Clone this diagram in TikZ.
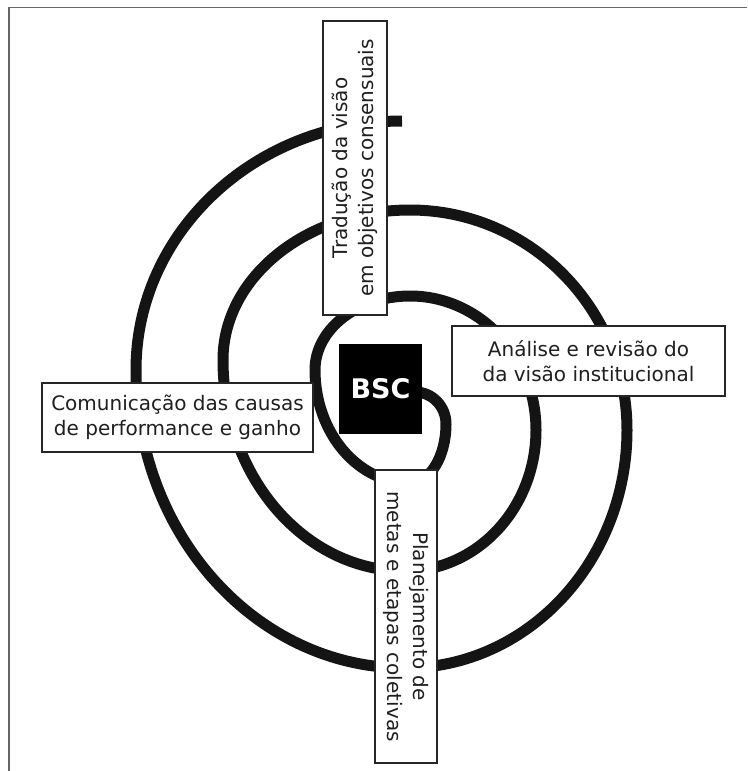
\documentclass[tikz,border=0pt]{standalone}
\usepackage{fontspec}
\setmainfont{DejaVu Sans}
\begin{document}
\begin{tikzpicture}[x=1pt,y=-1pt,
  ring/.style={line width=11pt, line cap=butt, black!92},
  labelbox/.style={draw=black!85, line width=1.8pt, fill=white, inner sep=0pt, align=center,
    font=\fontsize{20}{25.5}\selectfont, text=black!88},
  frameline/.style={draw=black!60, line width=1.6pt}]
\useasboundingbox (0,0) rectangle (747,771);
% frame
\coordinate (fa) at (8.7,771);
\coordinate (fb) at (8.7,7.3);
\coordinate (fc) at (747,7.3);
\draw[frameline] (fa) -- (fb) -- (fc);
% spiral
\coordinate (s0) at (415,392);
\draw[ring] (s0)
  arc[start angle=270,end angle=360,x radius=31,y radius=32]
  arc[start angle=0,end angle=90,x radius=36,y radius=59]
  arc[start angle=90,end angle=180,x radius=95,y radius=113]
  arc[start angle=180,end angle=270,x radius=95,y radius=74]
  arc[start angle=270,end angle=360,x radius=126,y radius=134]
  arc[start angle=0,end angle=90,x radius=131,y radius=141]
  arc[start angle=90,end angle=180,x radius=182,y radius=211]
  arc[start angle=180,end angle=270,x radius=187,y radius=150]
  arc[start angle=270,end angle=360,x radius=217,y radius=220]
  arc[start angle=0,end angle=90,x radius=222,y radius=238]
  arc[start angle=90,end angle=180,x radius=269,y radius=298]
  arc[start angle=180,end angle=270,x radius=266,y radius=249];
% boxes
\node[labelbox, rotate=90, minimum width=294pt, minimum height=64pt] (trad) at (355,168)
  {Tradução da visão\\em objetivos consensuais};
\node[labelbox, minimum width=273pt, minimum height=70pt] (anal) at (588.5,361)
  {Análise e revisão do\\da visão institucional};
\node[labelbox, minimum width=271pt, minimum height=69pt] (comu) at (177.5,417.5)
  {Comunicação das causas\\de performance e ganho};
\node[labelbox, rotate=-90, minimum width=293pt, minimum height=62.5pt] (plan) at (406,616.5)
  {Planejamento de\\metas e etapas coletivas};
\node[fill=black, minimum width=83pt, minimum height=90pt, inner sep=0pt, text=white,
  font=\fontsize{27}{27}\selectfont\bfseries] (bsc) at (380.5,389) {BSC};
\end{tikzpicture}
\end{document}
